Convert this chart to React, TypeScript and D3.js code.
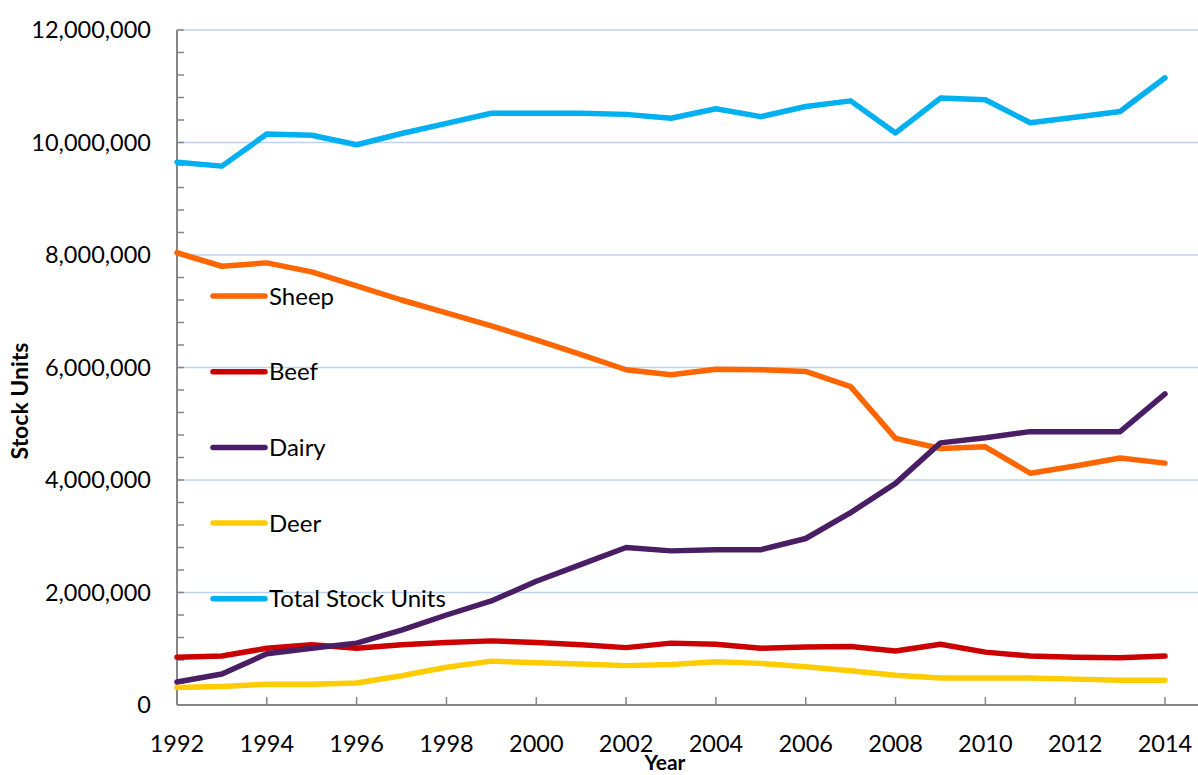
import React, { useEffect, useRef } from 'react';
import * as d3 from 'd3';

// years on the x axis
const years = d3.range(1992, 2015);

// stock units per class
const sheep = [8.04, 7.8, 7.86, 7.7, 7.45, 7.2, 6.97, 6.74, 6.49, 6.23, 5.96, 5.87, 5.97, 5.96, 5.93, 5.66, 4.74, 4.56, 4.59, 4.12, 4.25, 4.39, 4.3];
const beef = [0.85, 0.87, 1.01, 1.07, 1.01, 1.07, 1.11, 1.14, 1.11, 1.07, 1.02, 1.1, 1.08, 1.01, 1.03, 1.04, 0.96, 1.08, 0.94, 0.87, 0.85, 0.84, 0.87];
const dairy = [0.41, 0.55, 0.91, 1.01, 1.1, 1.33, 1.6, 1.85, 2.2, 2.5, 2.8, 2.74, 2.76, 2.76, 2.96, 3.42, 3.94, 4.66, 4.75, 4.86, 4.86, 4.86, 5.53];
const deer = [0.31, 0.33, 0.37, 0.37, 0.39, 0.52, 0.67, 0.78, 0.75, 0.73, 0.7, 0.72, 0.77, 0.74, 0.68, 0.61, 0.53, 0.48, 0.48, 0.48, 0.46, 0.44, 0.44];
const total = [9.65, 9.58, 10.15, 10.13, 9.96, 10.16, 10.34, 10.52, 10.52, 10.52, 10.5, 10.43, 10.6, 10.46, 10.64, 10.74, 10.17, 10.79, 10.76, 10.35, 10.45, 10.55, 11.15];

const seriesNames = ['Sheep', 'Beef', 'Dairy', 'Deer', 'Total Stock Units'];
const seriesValues = [sheep, beef, dairy, deer, total];
const seriesColors = ['#FF6600', '#CC0000', '#4A1E64', '#FFCC00', '#00B0F0'];

const yTicks = [0, 2e6, 4e6, 6e6, 8e6, 10e6, 12e6];
const xTicks = d3.range(1992, 2015, 2);

export default function App() {
  const svgRef = useRef<SVGSVGElement>(null);

  useEffect(() => {
    if (!svgRef.current) return;
    const W = 1198, H = 775;
    const left = 177, right = 1198, top = 30, bottom = 705;
    const font = 'Lato, "Noto Sans", sans-serif';

    const svg = d3.select(svgRef.current);
    svg.selectAll('*').remove();
    svg.attr('width', W).attr('height', H).style('background', '#fff');

    const x = d3.scaleLinear().domain([1992, 2014]).range([left, 1165]);
    const y = d3.scaleLinear().domain([0, 12e6]).range([bottom, top]);

    // gridlines
    svg.append('g')
      .selectAll('line')
      .data(yTicks.filter(d => d > 0))
      .join('line')
      .attr('x1', left).attr('x2', right)
      .attr('y1', d => y(d)).attr('y2', d => y(d))
      .attr('stroke', '#BCD3F2')
      .attr('stroke-width', 1.5);

    // y axis
    const yAxis = svg.append('g');
    yAxis.append('line')
      .attr('x1', left).attr('x2', left)
      .attr('y1', top).attr('y2', bottom)
      .attr('stroke', '#868686').attr('stroke-width', 2);
    yAxis.selectAll('line.tick')
      .data(d3.range(0, 12e6 + 1, 4e5))
      .join('line')
      .attr('class', 'tick')
      .attr('x1', left).attr('x2', left + 7)
      .attr('y1', d => y(d)).attr('y2', d => y(d))
      .attr('stroke', '#868686').attr('stroke-width', 1.5);
    yAxis.selectAll('text')
      .data(yTicks)
      .join('text')
      .attr('x', 151)
      .attr('y', d => y(d))
      .attr('dy', '0.36em')
      .attr('text-anchor', 'end')
      .style('font-family', font)
      .style('font-size', '23.5px')
      .attr('fill', '#000')
      .text(d => d3.format(',')(d));

    // x axis
    const xAxis = svg.append('g');
    xAxis.append('line')
      .attr('x1', left).attr('x2', right)
      .attr('y1', bottom).attr('y2', bottom)
      .attr('stroke', '#868686').attr('stroke-width', 2);
    xAxis.selectAll('line.tick')
      .data(xTicks)
      .join('line')
      .attr('class', 'tick')
      .attr('x1', d => x(d)).attr('x2', d => x(d))
      .attr('y1', bottom - 8).attr('y2', bottom)
      .attr('stroke', '#868686').attr('stroke-width', 1.5);
    xAxis.selectAll('text')
      .data(xTicks)
      .join('text')
      .attr('x', d => x(d))
      .attr('y', 752)
      .attr('text-anchor', 'middle')
      .style('font-family', font)
      .style('font-size', '23.5px')
      .attr('fill', '#000')
      .text(d => String(d));

    // axis titles
    svg.append('text')
      .attr('x', 665).attr('y', 770)
      .attr('text-anchor', 'middle')
      .style('font-family', font)
      .style('font-size', '21px')
      .style('font-weight', 'bold')
      .text('Year');
    svg.append('text')
      .attr('transform', 'translate(28,401) rotate(-90)')
      .attr('text-anchor', 'middle')
      .style('font-family', font)
      .style('font-size', '23px')
      .style('font-weight', 'bold')
      .text('Stock Units');

    // lines
    const line = d3.line<number>()
      .x((_, i) => x(years[i]))
      .y(d => y(d * 1e6));

    svg.append('g')
      .selectAll('path')
      .data(seriesValues)
      .join('path')
      .attr('d', d => line(d))
      .attr('fill', 'none')
      .attr('stroke', (_, i) => seriesColors[i])
      .attr('stroke-width', 5.5)
      .attr('stroke-linejoin', 'round')
      .attr('stroke-linecap', 'round');

    // legend
    const legend = svg.append('g')
      .selectAll('g')
      .data(seriesNames)
      .join('g')
      .attr('transform', (_, i) => `translate(213,${296 + i * 75.7})`);
    legend.append('line')
      .attr('x1', 0).attr('x2', 52)
      .attr('stroke', (_, i) => seriesColors[i])
      .attr('stroke-width', 5.5)
      .attr('stroke-linecap', 'round');
    legend.append('text')
      .attr('x', 56)
      .attr('dy', '0.36em')
      .style('font-family', font)
      .style('font-size', '24px')
      .attr('fill', '#000')
      .text(d => d);
  }, []);

  return (
    <div style={{ position: 'absolute', left: 0, top: 0 }}>
      <svg ref={svgRef}></svg>
    </div>
  );
}
